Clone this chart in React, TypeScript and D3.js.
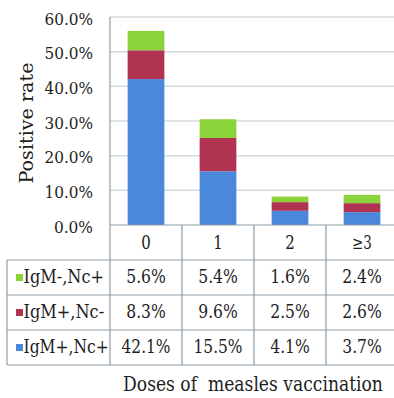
import React, { useLayoutEffect, useRef, useState } from "react";
import * as d3 from "d3";

const categories = ["0", "1", "2", "≥3"];
const seriesNames = ["IgM-,Nc+", "IgM+,Nc-", "IgM+,Nc+"];
const greenValues = [5.6, 5.4, 1.6, 2.4];
const redValues = [8.3, 9.6, 2.5, 2.6];
const blueValues = [42.1, 15.5, 4.1, 3.7];
const yTicks = [0, 10, 20, 30, 40, 50, 60];
const colors = ["#8bd33b", "#b03452", "#4a88dc"];

const W = 394, H = 398;
const font = "'DejaVu Serif', 'Liberation Serif', serif";
const ink = "#1e1e1e";

// Times-like advance widths (em) used to size the text like the reference typeface
const TW: Record<string, number> = {
  "0": .5, "1": .5, "2": .5, "3": .5, "4": .5, "5": .5, "6": .5, "7": .5, "8": .5, "9": .5,
  ".": .25, "%": .833, ",": .25, "-": .333, "+": .564, "I": .333, "g": .5, "M": .889, "N": .722,
  "c": .444, "≥": .549,
};
const tw = (s: string, size: number) => s.split("").reduce((a, ch) => a + (TW[ch] ?? .5), 0) * size;

type FitProps = { x: number; y: number; width: number; size: number; anchor?: "start" | "middle" | "end"; rotate?: number; children: string };
function FitText({ x, y, width, size, anchor = "start", rotate = 0, children }: FitProps) {
  const ref = useRef<SVGTextElement>(null);
  const [sx, setSx] = useState(1);
  useLayoutEffect(() => {
    if (ref.current) {
      const nat = ref.current.getComputedTextLength();
      if (nat > 0) setSx(width / nat);
    }
  }, [children, width, size]);
  return (
    <text ref={ref} transform={`translate(${x},${y}) rotate(${rotate}) scale(${sx},1)`} textAnchor={anchor}
      fontSize={size} fill={ink} style={{ whiteSpace: "pre" }}>{children}</text>
  );
}

export default function App() {
  const x = d3.scaleBand<string>().domain(categories).range([110, 398]).paddingInner(0.49).paddingOuter(0.245);
  const y = d3.scaleLinear().domain([0, 60]).range([225, 17]);
  const stackOrder = [blueValues, redValues, greenValues];
  const stackColors = [colors[2], colors[1], colors[0]];
  const rows = [greenValues, redValues, blueValues];
  const colEdges = [110, 182, 254, 326, 398];
  const rowTops = [260, 295, 330, 365];
  const border = "#8d9ea8";
  const cx = (c: string) => (x(c) as number) + x.bandwidth() / 2;

  return (
    <svg width={W} height={H} style={{ position: "absolute", left: 0, top: 0, background: "#fff", fontFamily: font }}>
      {yTicks.filter(t => t > 0).map(t => (
        <line key={t} x1={110} x2={398} y1={y(t)} y2={y(t)} stroke="#d3dbdf" strokeWidth={1.5} />
      ))}
      <line x1={110} x2={110} y1={y(60)} y2={225} stroke={border} strokeWidth={1.2} />
      {yTicks.map(t => {
        const s = `${t.toFixed(1)}%`;
        return <FitText key={t} x={93} y={y(t) + 7.5} anchor="end" size={17.5} width={tw(s, 18.8)}>{s}</FitText>;
      })}
      <FitText x={33} y={123} rotate={-90} anchor="middle" size={19} width={121}>Positive rate</FitText>
      {categories.map((c, i) => {
        let acc = 0;
        return stackOrder.map((s, k) => {
          const y0 = acc, y1 = acc + s[i];
          acc = y1;
          return <rect key={c + k} x={x(c)} width={x.bandwidth()} y={y(y1)} height={y(y0) - y(y1)} fill={stackColors[k]} />;
        });
      })}
      <line x1={110} x2={398} y1={225} y2={225} stroke={border} strokeWidth={1.2} />
      {colEdges.map(ex => (
        <line key={ex} x1={ex} x2={ex} y1={225} y2={365} stroke={border} strokeWidth={1.2} />
      ))}
      <line x1={7} x2={7} y1={260} y2={365} stroke={border} strokeWidth={1.2} />
      {rowTops.map(ry => (
        <line key={ry} x1={7} x2={398} y1={ry} y2={ry} stroke={border} strokeWidth={1.2} />
      ))}
      {categories.map(c => (
        <FitText key={c} x={cx(c)} y={248.5} anchor="middle" size={18} width={tw(c, 19)}>{c}</FitText>
      ))}
      {rows.map((r, ri) => (
        <g key={ri}>
          <rect x={16} y={rowTops[ri] + 14} width={7} height={7} fill={colors[ri]} />
          <FitText x={23.5} y={rowTops[ri] + 23} size={18.5} width={tw(seriesNames[ri], 20)}>{seriesNames[ri]}</FitText>
          {r.map((v, ci) => {
            const s = `${v.toFixed(1)}%`;
            return <FitText key={ci} x={cx(categories[ci])} y={rowTops[ri] + 23} anchor="middle" size={18} width={tw(s, 19)}>{s}</FitText>;
          })}
        </g>
      ))}
      <FitText x={253} y={391} anchor="middle" size={20} width={260}>Doses of  measles vaccination</FitText>
    </svg>
  );
}
